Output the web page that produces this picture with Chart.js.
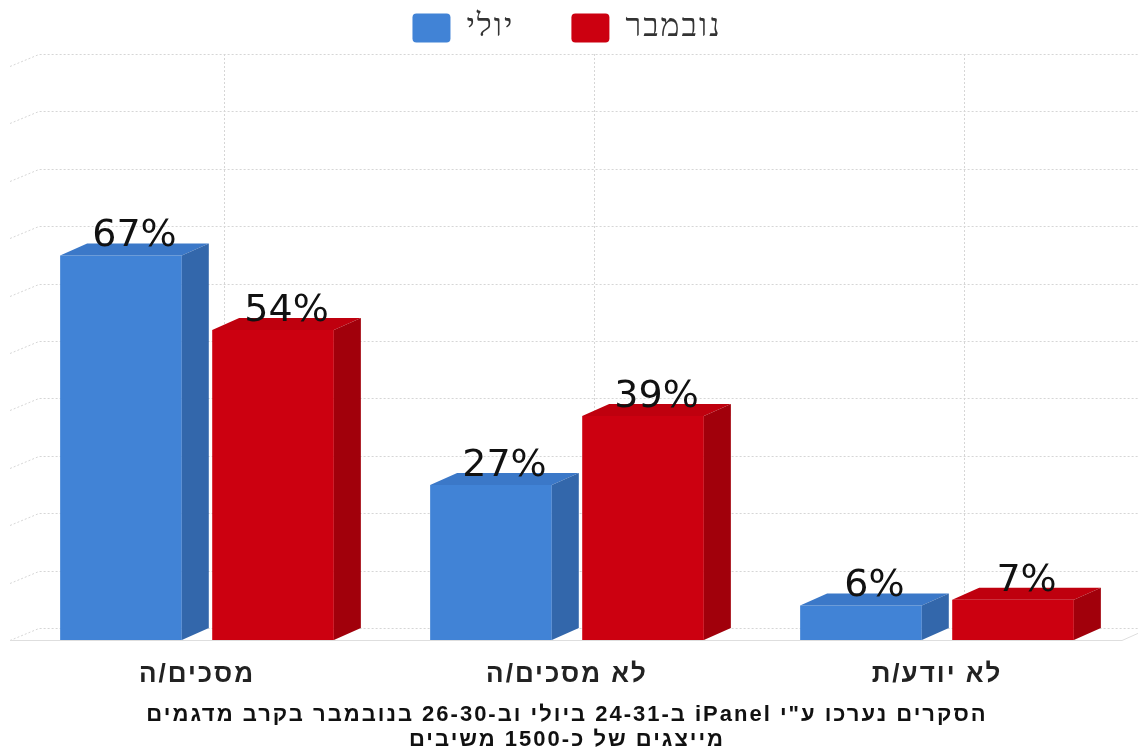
<!DOCTYPE html>
<html lang="he">
<head>
<meta charset="utf-8">
<title>מסכים/ה - יולי מול נובמבר</title>
<script src="https://cdn.jsdelivr.net/npm/chart.js@4/dist/chart.umd.min.js"></script>
<style>
  html, body { margin: 0; padding: 0; background: #fff; }
  #wrap { width: 1138px; height: 753px; position: relative; }
</style>
</head>
<body>
<div id="wrap"><canvas id="chart" dir="rtl"></canvas></div>
<script>
// data
const categories = ["מסכים/ה", "לא מסכים/ה", "לא יודע/ת"];
const seriesNames = ["יולי", "נובמבר"];
const julyValues = [67, 27, 6];
const novemberValues = [54, 39, 7];
const gridValues = [0, 10, 20, 30, 40, 50, 60, 70, 80, 90, 100];
const footerLines = [
  "הסקרים נערכו ע\"י iPanel ב-24-31 ביולי וב-26-30 בנובמבר בקרב מדגמים",
  "מייצגים של כ-1500 משיבים"
];

// 3D look
const DEPTH_X = 27, DEPTH_Y = 12;
const frontColors = ["#4183d6", "#cc0010"];
const faceColors = [
  { top: "#3b78c8", side: "#3367ab" },
  { top: "#bf000e", side: "#a1000b" }
];
const TEXT_SPACING = "2px"; // the original lettering is wide

function poly(ctx, pts, fill) {
  ctx.beginPath();
  ctx.moveTo(pts[0][0], pts[0][1]);
  for (let i = 1; i < pts.length; i++) ctx.lineTo(pts[i][0], pts[i][1]);
  ctx.closePath();
  ctx.fillStyle = fill;
  ctx.fill();
}

// widen the text drawn by chart.js (legend, ticks, footer)
const wideText = {
  id: "wideText",
  beforeUpdate(chart) { chart.ctx.letterSpacing = TEXT_SPACING; },
  beforeDraw(chart) { chart.ctx.letterSpacing = TEXT_SPACING; }
};

// back wall grid + floor edge, drawn under the bars
const backWall = {
  id: "backWall",
  beforeDatasetsDraw(chart) {
    const { ctx, chartArea, scales: { x, y } } = chart;
    ctx.save();
    ctx.strokeStyle = "#d6d6d6";
    ctx.lineWidth = 1;
    ctx.setLineDash([2, 2]);
    gridValues.forEach(v => {
      const py = Math.round(y.getPixelForValue(v)) + 0.5;
      ctx.beginPath();
      ctx.moveTo(chartArea.left - 2, py);
      ctx.lineTo(chartArea.left + DEPTH_X, py - DEPTH_Y);
      ctx.lineTo(chart.width, py - DEPTH_Y);
      ctx.stroke();
    });
    categories.forEach((c, i) => {
      const px = Math.round(x.getPixelForValue(i) + DEPTH_X) + 0.5;
      ctx.beginPath();
      ctx.moveTo(px, y.getPixelForValue(100) - DEPTH_Y);
      ctx.lineTo(px, y.getPixelForValue(0) - DEPTH_Y);
      ctx.stroke();
    });
    ctx.setLineDash([]);
    ctx.strokeStyle = "#dedede";
    const y0 = Math.round(y.getPixelForValue(0)) + 0.5;
    ctx.beginPath();
    ctx.moveTo(chartArea.left - 2, y0);
    ctx.lineTo(chartArea.right, y0);
    ctx.lineTo(chartArea.right + DEPTH_X, y0 - DEPTH_Y);
    ctx.stroke();
    ctx.restore();
  }
};

// top + side faces and the value labels
const bars3d = {
  id: "bars3d",
  afterDatasetsDraw(chart) {
    const { ctx } = chart;
    ctx.save();
    chart.data.datasets.forEach((ds, di) => {
      chart.getDatasetMeta(di).data.forEach(bar => {
        const { x, y, base, width } = bar.getProps(["x", "y", "base", "width"], true);
        const l = x - width / 2, r = x + width / 2;
        poly(ctx, [[l, y], [l + DEPTH_X, y - DEPTH_Y], [r + DEPTH_X, y - DEPTH_Y], [r, y]], faceColors[di].top);
        poly(ctx, [[r, y], [r + DEPTH_X, y - DEPTH_Y], [r + DEPTH_X, base - DEPTH_Y], [r, base]], faceColors[di].side);
      });
    });
    ctx.letterSpacing = "0px";
    ctx.direction = "ltr";
    ctx.font = "38px 'DejaVu Sans', Verdana, sans-serif";
    ctx.fillStyle = "#111";
    ctx.textAlign = "center";
    ctx.textBaseline = "alphabetic";
    chart.data.datasets.forEach((ds, di) => {
      chart.getDatasetMeta(di).data.forEach((bar, i) => {
        const { x, y } = bar.getProps(["x", "y"], true);
        ctx.fillText(ds.data[i] + "%", x + DEPTH_X / 2, y - 9);
      });
    });
    ctx.restore();
  }
};

const ctx = document.getElementById("chart").getContext("2d");
const chart = new Chart(ctx, {
  type: "bar",
  data: {
    labels: categories,
    datasets: [
      { label: seriesNames[0], data: julyValues, backgroundColor: frontColors[0], borderWidth: 0 },
      { label: seriesNames[1], data: novemberValues, backgroundColor: frontColors[1], borderWidth: 0 }
    ]
  },
  options: {
    responsive: true,
    maintainAspectRatio: false,
    animation: false,
    categoryPercentage: 0.822,
    barPercentage: 0.8,
    layout: { padding: { top: -45, left: 12, right: 16, bottom: 0 } },
    plugins: {
      legend: {
        position: "top",
        weight: 1000,
        labels: {
          boxWidth: 38,
          boxHeight: 29,
          padding: 57,
          useBorderRadius: true,
          borderRadius: 4,
          color: "#333",
          font: { family: "'Liberation Serif', serif", size: 32 }
        }
      },
      // empty spacer between legend and plot
      subtitle: { display: true, text: "", position: "top", weight: 500, padding: 0, font: { size: 10, lineHeight: 1.2 } },
      title: {
        display: true,
        position: "bottom",
        text: footerLines,
        color: "#111",
        padding: { top: 12, bottom: 0 },
        font: { family: "'Liberation Sans', Arial, sans-serif", size: 22, weight: "bold", lineHeight: 1.15 }
      },
      tooltip: { enabled: false }
    },
    scales: {
      x: {
        grid: { display: false },
        border: { display: false },
        ticks: {
          color: "#222",
          padding: 11,
          font: { family: "'Liberation Sans', Arial, sans-serif", size: 26, weight: "bold" }
        },
        afterFit(s) { s.height = 50.5; }
      },
      y: { display: false, min: 0, max: 100 }
    }
  },
  plugins: [wideText, backWall, bars3d]
});
</script>
</body>
</html>
